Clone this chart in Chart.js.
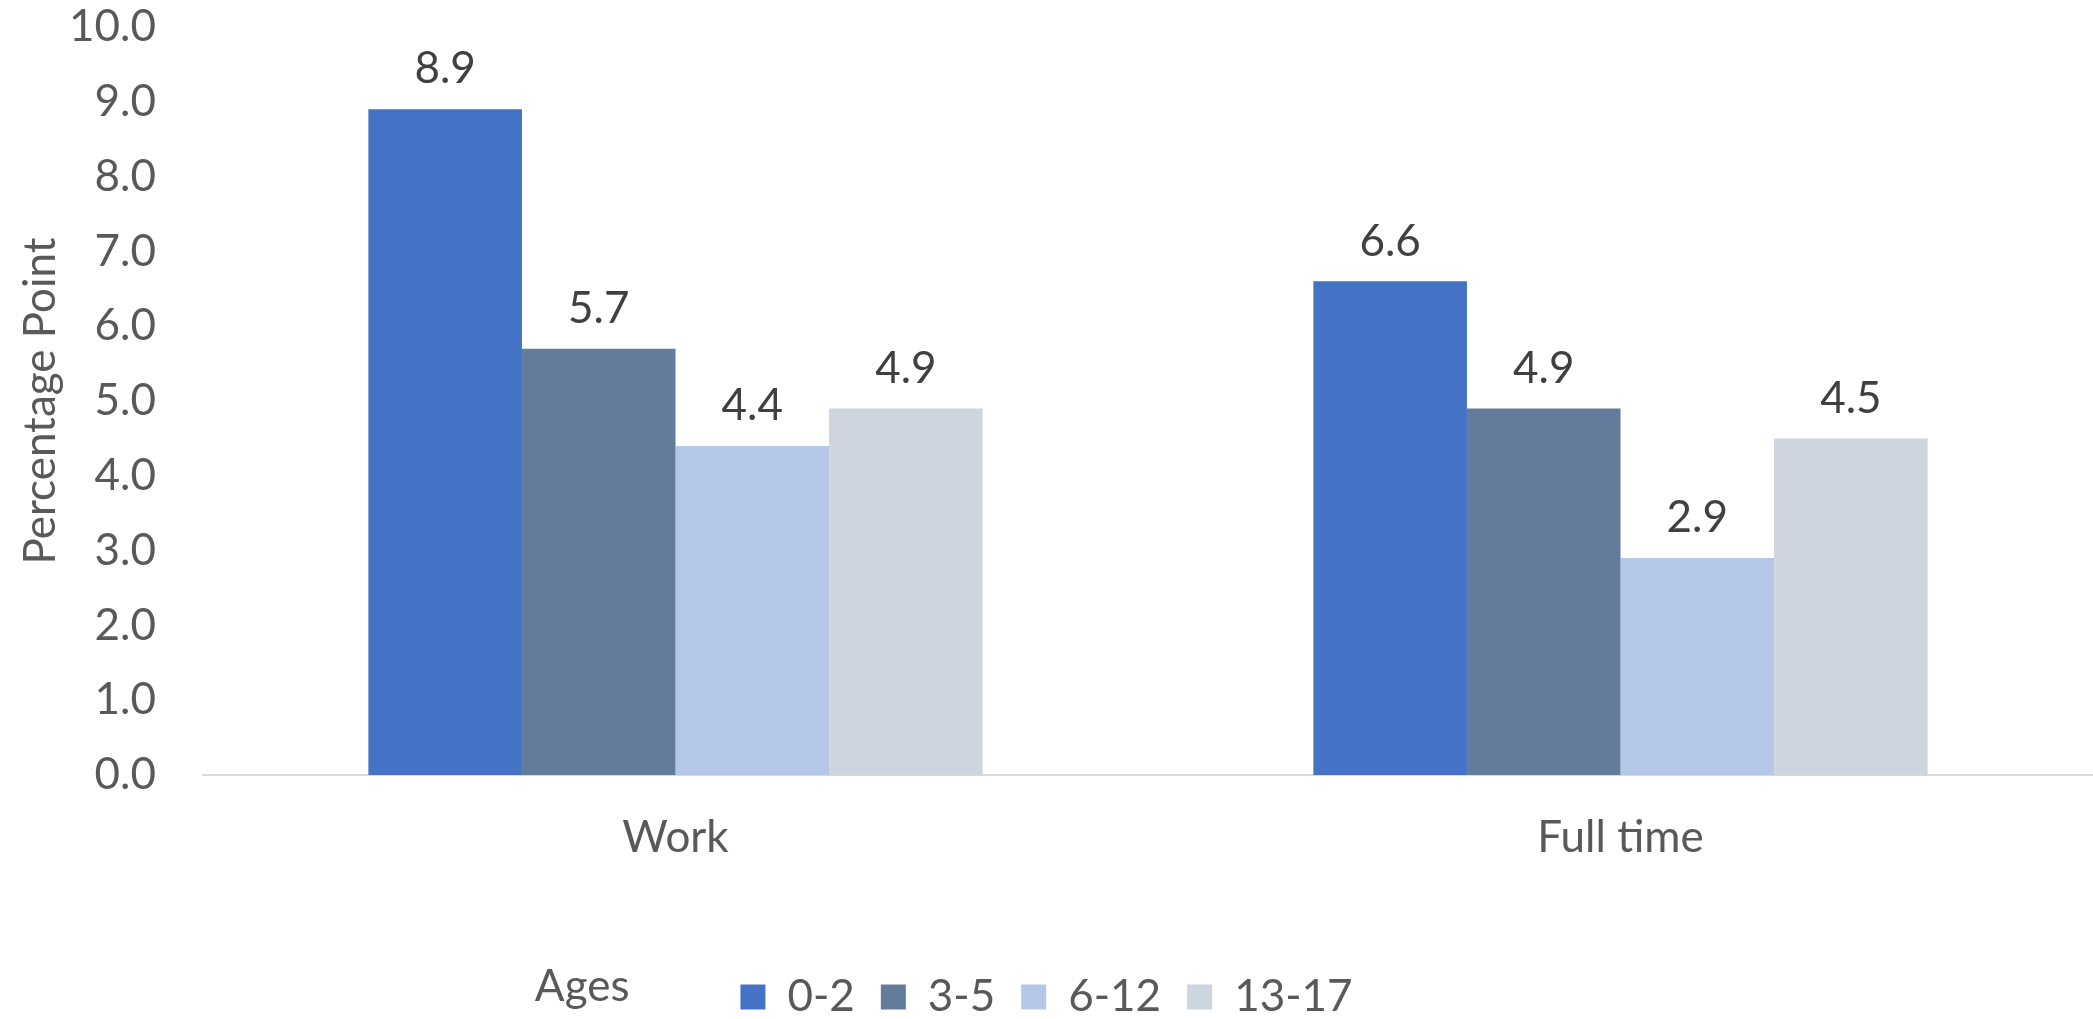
<!DOCTYPE html>
<html>
<head>
<meta charset="utf-8">
<script src="https://cdn.jsdelivr.net/npm/chart.js@4.4.1/dist/chart.umd.min.js"></script>
<style>
    html, body { margin: 0; padding: 0; background: #ffffff; }
    #wrap { width: 2093px; height: 1019px; }
</style>
</head>
<body>
<div id="wrap"><canvas id="agesBar"></canvas></div>
<script>
const categories = ['Work', 'Full time'];
const ageGroups = ['0-2', '3-5', '6-12', '13-17'];
const values0to2 = [8.9, 6.6];
const values3to5 = [5.7, 4.9];
const values6to12 = [4.4, 2.9];
const values13to17 = [4.9, 4.5];
const yTicks = [0, 1, 2, 3, 4, 5, 6, 7, 8, 9, 10];

const barColors = ['#4472C4', '#647C9B', '#B4C7E7', '#CDD5DF'];
const fontName = 'Lato';
const fontSize = 44;

// value labels above every bar
const barValueLabels = {
    id: 'barValueLabels',
    afterDatasetsDraw(chart) {
        const ctx = chart.ctx;
        ctx.save();
        ctx.font = fontSize + 'px ' + fontName;
        ctx.fillStyle = '#404040';
        ctx.textAlign = 'center';
        ctx.textBaseline = 'middle';
        chart.data.datasets.forEach(function (ds, i) {
            chart.getDatasetMeta(i).data.forEach(function (bar, j) {
                ctx.fillText(ds.data[j].toFixed(1), bar.x, bar.y - 40);
            });
        });
        ctx.restore();
    }
};

// "Ages" caption to the left of the legend row
const legendCaption = {
    id: 'legendCaption',
    afterDraw(chart) {
        const lg = chart.legend;
        if (!lg || !lg.legendHitBoxes.length) return;
        const first = lg.legendHitBoxes[0];
        const ctx = chart.ctx;
        ctx.save();
        ctx.font = fontSize + 'px ' + fontName;
        ctx.fillStyle = '#595959';
        ctx.textAlign = 'right';
        ctx.textBaseline = 'middle';
        ctx.fillText('Ages', first.left - 111, first.top + first.height / 2 - 10);
        ctx.restore();
    }
};

const seriesValues = [values0to2, values3to5, values6to12, values13to17];

const agesBar = document.getElementById('agesBar');
new Chart(agesBar, {
    type: 'bar',
    data: {
        labels: categories,
        datasets: ageGroups.map(function (g, i) {
            return {
                label: g,
                data: seriesValues[i],
                backgroundColor: barColors[i],
                borderWidth: 0,
                categoryPercentage: 0.65,
                barPercentage: 1.0
            };
        })
    },
    options: {
        responsive: true,
        maintainAspectRatio: false,
        animation: false,
        layout: {
            padding: { top: 27, bottom: -10, left: 0, right: 0 }
        },
        plugins: {
            tooltip: { enabled: false },
            legend: {
                position: 'bottom',
                labels: {
                    boxWidth: 25,
                    boxHeight: 25,
                    padding: 26,
                    color: '#595959',
                    font: { family: fontName, size: fontSize }
                }
            }
        },
        scales: {
            x: {
                grid: { display: false, drawTicks: false },
                border: { display: true, color: '#D9D9D9', width: 2 },
                ticks: {
                    color: '#595959',
                    padding: 36,
                    font: { family: fontName, size: fontSize }
                },
                afterFit: function (scale) { scale.height = 174; }
            },
            y: {
                min: 0,
                max: 10,
                grid: { display: false, drawTicks: false },
                border: { display: false },
                afterBuildTicks: function (scale) {
                    scale.ticks = yTicks.map(function (v) { return { value: v }; });
                },
                ticks: {
                    color: '#595959',
                    padding: 47,
                    font: { family: fontName, size: fontSize },
                    callback: function (v) { return Number(v).toFixed(1); }
                },
                title: {
                    display: true,
                    text: 'Percentage Point',
                    color: '#595959',
                    padding: 14,
                    font: { family: fontName, size: fontSize }
                },
                afterFit: function (scale) {
                    scale.width = 203;
                    scale.paddingTop = 0;
                }
            }
        }
    },
    plugins: [barValueLabels, legendCaption]
});
</script>
</body>
</html>
